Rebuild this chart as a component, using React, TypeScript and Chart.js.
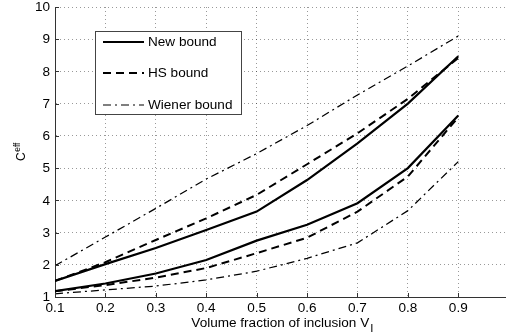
import React, { useEffect, useRef } from "react";
import { Chart, registerables } from "chart.js";

Chart.register(...registerables);

const xValues = [0.1, 0.2, 0.3, 0.4, 0.5, 0.6, 0.7, 0.8, 0.9];
const newUpper = [1.5, 2.02, 2.52, 3.08, 3.65, 4.63, 5.77, 7.0, 8.47];
const hsUpper = [1.5, 2.08, 2.77, 3.44, 4.17, 5.12, 6.08, 7.15, 8.42];
const wienerUpper = [1.97, 2.86, 3.75, 4.66, 5.45, 6.32, 7.27, 8.17, 9.1];
const newLower = [1.18, 1.42, 1.73, 2.15, 2.75, 3.24, 3.91, 5.0, 6.63];
const hsLower = [1.18, 1.37, 1.6, 1.9, 2.36, 2.84, 3.65, 4.74, 6.58];
const wienerLower = [1.1, 1.22, 1.34, 1.53, 1.8, 2.2, 2.68, 3.68, 5.2];

const legendLabels = ["New bound", "HS bound", "Wiener bound"];
const xTitle = "Volume fraction of inclusion V";
const xTitleSub = "I";
const yTitle = "C";
const yTitleSup = "eff";

const FONT = '"Liberation Sans", Arial, Helvetica, sans-serif';
const AXIS = "#333";
const SX = 1.13;

const SOLID: number[] = [];
const DASH = [8, 5];
const DASHDOT = [8, 4, 2, 4];

function pts(ys: number[]) {
  return xValues.map((x, i) => ({ x, y: ys[i] }));
}

function txt(ctx: CanvasRenderingContext2D, s: string, x: number, y: number, align: CanvasTextAlign, size: number) {
  ctx.save();
  ctx.translate(x, y);
  ctx.scale(SX, 1);
  ctx.font = `${size}px ${FONT}`;
  ctx.textAlign = align;
  ctx.textBaseline = "alphabetic";
  ctx.fillStyle = "#000";
  ctx.fillText(s, 0, 0);
  ctx.restore();
}

const customPlugin = {
  id: "customDecor",
  afterDraw(chart: any) {
    const ctx: CanvasRenderingContext2D = chart.ctx;
    const { left, right, top, bottom } = chart.chartArea;
    const xs = chart.scales.x;
    const ys = chart.scales.y;

    // inward tick marks
    ctx.save();
    ctx.strokeStyle = AXIS;
    ctx.lineWidth = 1;
    ctx.beginPath();
    xs.ticks.forEach((t: any) => {
      const px = Math.round(xs.getPixelForValue(t.value)) + 0.5;
      ctx.moveTo(px, bottom);
      ctx.lineTo(px, bottom - 4);
    });
    ys.ticks.forEach((t: any) => {
      const py = Math.round(ys.getPixelForValue(t.value)) + 0.5;
      ctx.moveTo(left, py);
      ctx.lineTo(left + 4, py);
    });
    ctx.stroke();
    ctx.restore();

    // tick labels
    xs.ticks.forEach((t: any) => {
      const v = t.value;
      const label = Math.abs(v - Math.round(v)) < 1e-9 ? String(Math.round(v)) : v.toFixed(1);
      txt(ctx, label, xs.getPixelForValue(v), bottom + 14.5, "center", 12);
    });
    ys.ticks.forEach((t: any) => {
      const v = t.value;
      txt(ctx, String(Math.round(v)), left - 5, ys.getPixelForValue(v) + 4.2, "right", 12);
    });

    // x title with subscript
    ctx.save();
    ctx.font = `12px ${FONT}`;
    const w1 = ctx.measureText(xTitle).width * SX;
    ctx.font = `10px ${FONT}`;
    const w2 = ctx.measureText(xTitleSub).width * SX;
    ctx.restore();
    const cx = (left + right) / 2;
    const start = cx - (w1 + w2) / 2;
    txt(ctx, xTitle, start, 327, "left", 12);
    txt(ctx, xTitleSub, start + w1 + 1, 332, "left", 10);

    // y title rotated with superscript
    ctx.save();
    ctx.translate(25, 161);
    ctx.rotate(-Math.PI / 2);
    ctx.scale(1, SX);
    ctx.fillStyle = "#000";
    ctx.textBaseline = "alphabetic";
    ctx.textAlign = "left";
    ctx.font = `12px ${FONT}`;
    ctx.fillText(yTitle, 0, 0);
    const wc = ctx.measureText(yTitle).width;
    ctx.font = `8.5px ${FONT}`;
    ctx.fillText(yTitleSup, wc + 0.5, -4.5);
    ctx.restore();

    // legend
    const bx = 95.5, by = 31.5, bw = 146, bh = 83;
    ctx.save();
    ctx.fillStyle = "#fff";
    ctx.fillRect(bx, by, bw, bh);
    ctx.strokeStyle = "#444";
    ctx.lineWidth = 1;
    ctx.strokeRect(bx, by, bw, bh);
    const rows = [
      { y: 42, dash: SOLID, w: 2 },
      { y: 73, dash: DASH, w: 2 },
      { y: 105, dash: DASHDOT, w: 1.1 },
    ];
    rows.forEach((r, i) => {
      ctx.save();
      ctx.strokeStyle = "#000";
      ctx.lineWidth = r.w;
      ctx.setLineDash(r.dash);
      ctx.beginPath();
      ctx.moveTo(103, r.y);
      ctx.lineTo(144, r.y);
      ctx.stroke();
      ctx.restore();
      txt(ctx, legendLabels[i], 148, r.y + 4.3, "left", 12);
    });
    ctx.restore();
  },
};

export default function App() {
  const ref = useRef<HTMLCanvasElement | null>(null);

  useEffect(() => {
    if (!ref.current) return;
    const mk = (data: number[], dash: number[], w: number) => ({
      data: pts(data),
      borderColor: "#000",
      backgroundColor: "#000",
      borderWidth: w,
      borderDash: dash,
      pointRadius: 0,
      tension: 0,
      fill: false,
    });
    const chart = new Chart(ref.current, {
      type: "line",
      data: {
        datasets: [
          mk(wienerUpper, DASHDOT, 1.25),
          mk(hsUpper, DASH, 2),
          mk(newUpper, SOLID, 2.2),
          mk(wienerLower, DASHDOT, 1.25),
          mk(hsLower, DASH, 2),
          mk(newLower, SOLID, 2.2),
        ],
      },
      options: {
        animation: false,
        responsive: false,
        devicePixelRatio: 1,
        layout: { padding: { left: 55, right: 3.3, top: 7, bottom: 38 } },
        plugins: { legend: { display: false }, tooltip: { enabled: false } },
        scales: {
          x: {
            type: "linear",
            min: 0.1,
            max: 1.0,
            ticks: { display: false, stepSize: 0.1 },
            grid: { color: "rgba(0,0,0,0.4)", drawTicks: false, lineWidth: 1 },
            border: { display: true, color: AXIS, width: 1, dash: [1, 3] as any },
          },
          y: {
            type: "linear",
            min: 1,
            max: 10,
            ticks: { display: false, stepSize: 1 },
            grid: { color: "rgba(0,0,0,0.4)", drawTicks: false, lineWidth: 1 },
            border: { display: true, color: AXIS, width: 1, dash: [1, 3] as any },
          },
        },
      },
      plugins: [customPlugin],
    });
    return () => chart.destroy();
  }, []);

  return (
    <div style={{ position: "absolute", left: 0, top: 0, width: 506, height: 335, overflow: "hidden", background: "#fff" }}>
      <canvas ref={ref} width={512} height={335} style={{ display: "block", width: 512, height: 335 }} />
    </div>
  );
}
